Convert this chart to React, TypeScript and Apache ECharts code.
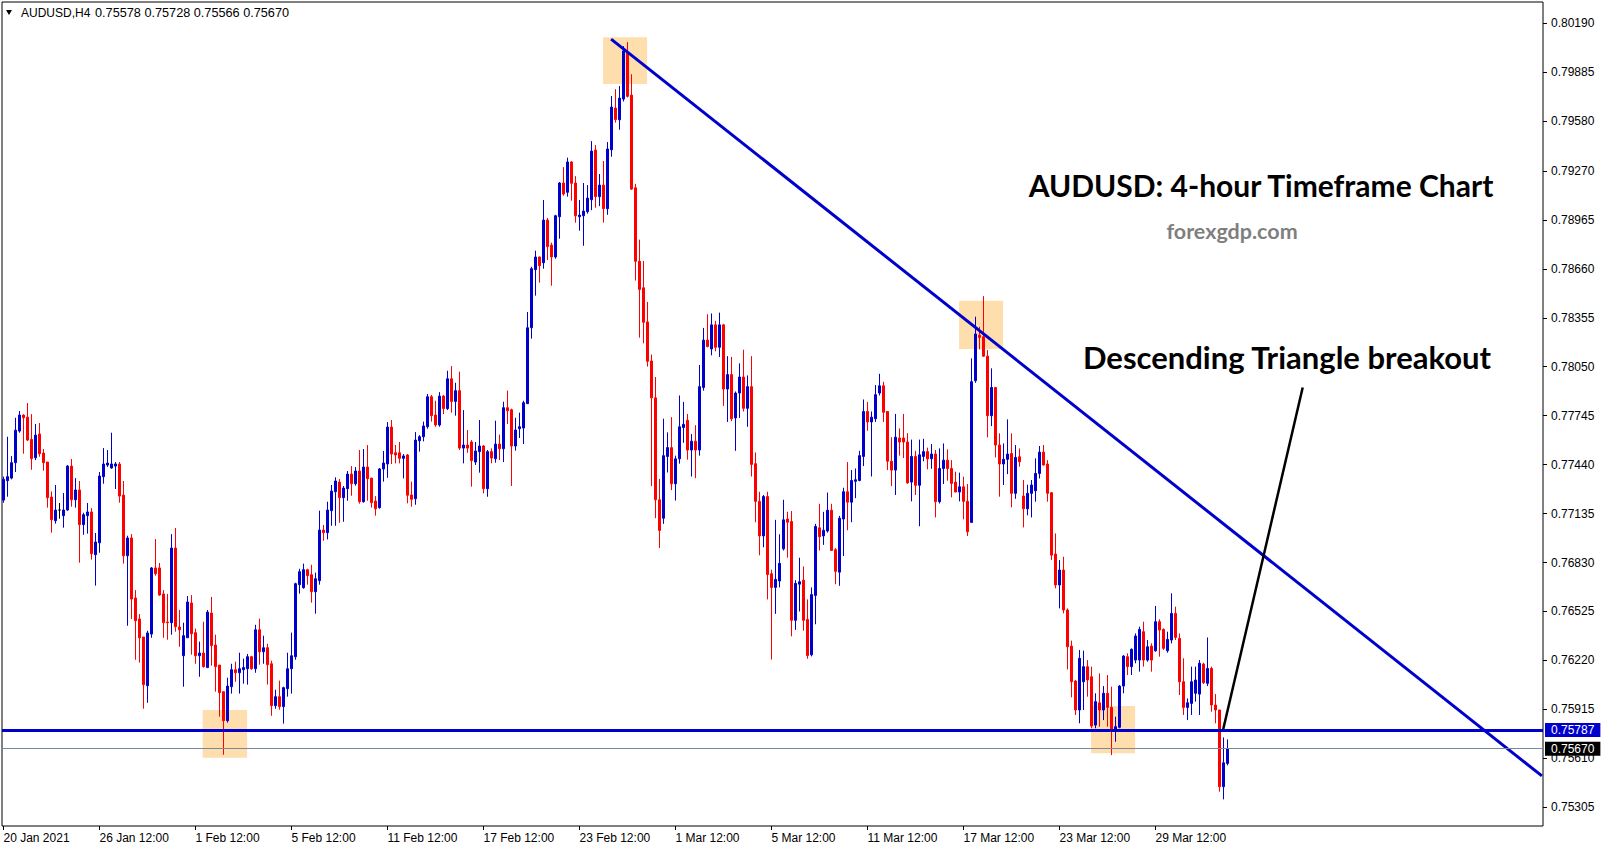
import React, { useEffect, useRef } from "react";
import * as echarts from "echarts";

// AUDUSD H4 candles, prices in 1e-5 units (points)
const OPEN = [
  77219, 77340, 77356, 77452, 77649, 77749, 77736, 77597, 77483, 77631,
  77512, 77456, 77238, 77091, 77157, 77122, 77157, 77431, 77221, 77282,
  77066, 77122, 77145, 76879, 76953, 77365, 77437, 77419, 77431, 77444,
  77250, 76872, 76983, 76609, 76478, 76366, 76062, 76384, 76796, 76796,
  76634, 76459, 76455, 76920, 76428, 76249, 76361, 76578, 76393, 76249,
  76266, 76175, 76515, 76316, 76191, 76025, 75844, 76056, 76162, 76143,
  76162, 76168, 76243, 76168, 76411, 76274, 76299, 76199, 75938, 75994,
  75932, 76044, 76168, 76243, 76692, 76673, 76785, 76754, 76648, 76717,
  77032, 77016, 77153, 77271, 77331, 77234, 77290, 77381, 77321, 77400,
  77209, 77425, 77356, 77213, 77172, 77413, 77444, 77674, 77514, 77514,
  77479, 77500, 77251, 77228, 77589, 77614, 77676, 77863, 77749, 77687,
  77867, 77789, 77975, 77834, 77901, 77543, 77562, 77581, 77456, 77521,
  77556, 77290, 77521, 77477, 77568, 77539, 77795, 77782, 77556, 77664,
  77668, 77820, 78293, 78655, 78734, 78698, 78964, 78808, 78734, 78985,
  79195, 79137, 79326, 79195, 78985, 78991, 79016, 79091, 79400, 79110,
  79182, 79035, 79402, 79662, 79589, 79718, 80010, 79743, 79165, 78707,
  78542, 78329, 78086, 77856, 77221, 77106, 77491, 77546, 77321, 77476,
  77671, 77716, 77531, 77586, 77531, 77921, 78216, 78161, 78311, 78171,
  78311, 77911, 78001, 77731, 77886, 77986, 77791, 77926, 77446, 77211,
  76996, 77241, 76760, 76675, 76715, 76915, 77101, 77086, 76470, 76695,
  76720, 76475, 76255, 76625, 77046, 76996, 77026, 77156, 76910, 76770,
  77101, 77271, 77206, 77336, 77341, 77491, 77771, 77706, 77726, 77886,
  77931, 77771, 77461, 77406, 77606, 77606, 77581, 77331, 77491, 77311,
  77491, 77521, 77477, 77506, 77209, 77416, 77468, 77416, 77331, 77269,
  77302, 77211, 77080, 77963, 78247, 78237, 78116, 77745, 77921, 77562,
  77444, 77473, 77510, 77261, 77489, 77244, 77165, 77261, 77277, 77385,
  77518, 77444, 77265, 76883, 76690, 76783, 76534, 76309, 76091, 75911,
  76087, 76181, 76118, 75817, 75956, 75911, 76015, 75927, 75782, 75803,
  76060, 76243, 76181, 76222, 76222, 76399, 76222, 76309, 76280, 76461,
  76413, 76280, 76347, 76513, 76357, 76087, 75927, 75952, 76015, 76010,
  76197, 76077, 76170, 75942, 75911, 75433, 75578,
];
const HIGH = [
  77365, 77614, 77493, 77732, 77774, 77753, 77824, 77755, 77693, 77699,
  77537, 77456, 77273, 77313, 77201, 77263, 77437, 77475, 77356, 77338,
  77140, 77201, 77169, 77014, 77394, 77543, 77531, 77639, 77456, 77456,
  77338, 76997, 77007, 76658, 76509, 76366, 76405, 76802, 76976, 76827,
  76658, 76634, 77007, 77045, 76534, 76455, 76621, 76627, 76418, 76337,
  76461, 76534, 76615, 76380, 76191, 76025, 76112, 76199, 76212, 76268,
  76231, 76260, 76249, 76442, 76480, 76374, 76324, 76218, 76037, 76094,
  76056, 76268, 76393, 76704, 76791, 76823, 76791, 76816, 76767, 77153,
  77064, 77209, 77313, 77361, 77350, 77307, 77400, 77431, 77425, 77531,
  77537, 77562, 77356, 77244, 77419, 77525, 77705, 77718, 77562, 77581,
  77506, 77506, 77334, 77643, 77624, 77708, 77880, 77874, 77838, 77892,
  77874, 78025, 78054, 77950, 78019, 77780, 77656, 77593, 77581, 77718,
  77562, 77531, 77541, 77714, 77627, 77832, 77901, 77789, 77732, 77764,
  77838, 78391, 78673, 78773, 78736, 79089, 78977, 78823, 78997, 79201,
  79294, 79353, 79332, 79238, 79089, 79195, 79182, 79456, 79431, 79251,
  79332, 79450, 79737, 79780, 79799, 80048, 80073, 79873, 79190, 78842,
  78709, 78454, 78126, 77986, 77351, 77726, 77641, 77736, 77496, 77871,
  77831, 77756, 77631, 77686, 78061, 78292, 78377, 78382, 78336, 78387,
  78317, 78116, 78111, 77896, 78071, 78156, 77996, 78116, 77516, 77271,
  77251, 77271, 76785, 77096, 77006, 77221, 77146, 77151, 76720, 76860,
  76805, 76600, 76675, 77071, 77196, 77146, 77266, 77196, 76920, 77121,
  77296, 77456, 77406, 77416, 77526, 77846, 77831, 77771, 77936, 78006,
  77956, 77771, 77611, 77756, 77666, 77756, 77636, 77596, 77526, 77596,
  77601, 77546, 77568, 77531, 77541, 77572, 77535, 77468, 77396, 77390,
  77365, 77319, 78102, 78362, 78299, 78490, 78154, 78040, 77921, 77635,
  77572, 77722, 77635, 77562, 77541, 77344, 77315, 77344, 77479, 77556,
  77562, 77468, 77269, 77011, 76845, 76866, 76544, 76343, 76098, 76285,
  76281, 76222, 76181, 76015, 76139, 76060, 76129, 76056, 75869, 76066,
  76253, 76264, 76295, 76388, 76430, 76461, 76347, 76326, 76559, 76476,
  76420, 76399, 76638, 76555, 76388, 76233, 75983, 76181, 76181, 76222,
  76206, 76363, 76181, 76010, 75911, 75740, 75728,
];
const LOW = [
  77203, 77240, 77348, 77394, 77639, 77508, 77587, 77408, 77468, 77489,
  77402, 77172, 77016, 77072, 77103, 77047, 77153, 77178, 77172, 76829,
  77003, 77010, 76848, 76686, 76891, 77321, 77425, 77415, 77288, 77203,
  76823, 76436, 76478, 76224, 76206, 75919, 75956, 76361, 76748, 76623,
  76361, 76349, 76380, 76399, 76305, 76056, 76361, 76256, 76199, 76118,
  76175, 76175, 76187, 76025, 75869, 75632, 75832, 76013, 76087, 76013,
  76075, 76069, 76162, 76143, 76193, 76199, 76069, 75875, 75919, 75913,
  75826, 75994, 76013, 76224, 76636, 76667, 76692, 76580, 76511, 76692,
  76966, 76974, 77059, 77059, 77078, 77084, 77215, 77246, 77309, 77197,
  77203, 77215, 77172, 77122, 77165, 77334, 77358, 77444, 77448, 77448,
  77354, 77199, 77178, 77190, 77521, 77585, 77664, 77708, 77676, 77676,
  77755, 77780, 77764, 77745, 77531, 77448, 77514, 77303, 77438, 77390,
  77261, 77240, 77448, 77452, 77469, 77456, 77693, 77307, 77527, 77606,
  77568, 77820, 78225, 78493, 78574, 78661, 78715, 78555, 78723, 78848,
  79116, 79110, 79085, 78948, 78898, 78804, 79004, 79026, 79041, 79051,
  78948, 78997, 79359, 79571, 79527, 79703, 79728, 79152, 78587, 78231,
  78196, 78051, 77306, 77106, 76920, 77071, 77391, 77281, 77216, 77446,
  77576, 77471, 77366, 77356, 77496, 77901, 78171, 78121, 78146, 78111,
  77806, 77706, 77711, 77526, 77731, 77771, 77676, 77366, 77081, 76875,
  76925, 76600, 76225, 76510, 76675, 76905, 76860, 76370, 76410, 76525,
  76405, 76230, 76245, 76445, 76905, 76940, 77016, 76905, 76695, 76685,
  76870, 77031, 77081, 77231, 77336, 77431, 77651, 77366, 77706, 77871,
  77706, 77406, 77306, 77251, 77496, 77481, 77321, 77211, 77251, 77056,
  77461, 77411, 77414, 77111, 77198, 77319, 77340, 77236, 77269, 77211,
  77099, 76995, 77080, 77950, 78158, 78112, 77610, 77680, 77485, 77240,
  77313, 77381, 77174, 77227, 77427, 77049, 77124, 77111, 77209, 77354,
  77435, 77209, 76845, 76669, 76544, 76513, 76164, 75990, 75880, 75828,
  75911, 75994, 75797, 75797, 75807, 75848, 75807, 75630, 75713, 75797,
  76015, 76129, 76129, 76202, 76150, 76181, 76212, 76150, 76274, 76243,
  76285, 76268, 76326, 76347, 76004, 75880, 75848, 75880, 75963, 75880,
  76073, 76060, 75900, 75828, 75402, 75354, 75566,
];
const CLOSE = [
  77348, 77365, 77452, 77655, 77749, 77732, 77593, 77477, 77624, 77508,
  77452, 77234, 77097, 77157, 77157, 77157, 77431, 77221, 77282, 77066,
  77128, 77145, 76885, 76958, 77369, 77444, 77450, 77444, 77444, 77244,
  76872, 76983, 76602, 76467, 76361, 76069, 76391, 76796, 76760, 76627,
  76455, 76455, 76920, 76430, 76411, 76374, 76584, 76386, 76249, 76266,
  76181, 76521, 76312, 76181, 76019, 75844, 76060, 76162, 76143, 76168,
  76175, 76243, 76168, 76411, 76274, 76299, 76193, 75938, 75994, 75932,
  76050, 76168, 76249, 76698, 76773, 76785, 76748, 76648, 76729, 77032,
  77016, 77157, 77275, 77338, 77234, 77294, 77381, 77321, 77400, 77209,
  77425, 77352, 77203, 77165, 77413, 77450, 77674, 77506, 77500, 77479,
  77494, 77249, 77224, 77593, 77614, 77681, 77863, 77745, 77687, 77867,
  77789, 77975, 77834, 77901, 77543, 77562, 77543, 77465, 77525, 77556,
  77290, 77521, 77481, 77568, 77539, 77795, 77776, 77556, 77656, 77676,
  77826, 78293, 78661, 78734, 78680, 78964, 78798, 78734, 78991, 79195,
  79126, 79326, 79193, 78991, 78995, 79020, 79101, 79394, 79110, 79182,
  79035, 79407, 79668, 79591, 79724, 80018, 79735, 79157, 78707, 78532,
  78327, 78084, 77856, 77221, 77030, 77496, 77546, 77321, 77476, 77676,
  77691, 77531, 77586, 77531, 77926, 78216, 78176, 78311, 78171, 78311,
  77911, 78001, 77726, 77886, 77986, 77791, 77926, 77441, 77211, 76996,
  77241, 76755, 76675, 76725, 76825, 77096, 77081, 76470, 76700, 76710,
  76470, 76250, 76630, 77055, 76991, 77031, 77156, 76905, 76775, 77106,
  77271, 77206, 77341, 77346, 77496, 77771, 77706, 77736, 77876, 77931,
  77766, 77461, 77406, 77611, 77581, 77581, 77326, 77491, 77311, 77501,
  77521, 77476, 77506, 77209, 77416, 77468, 77416, 77323, 77269, 77302,
  77211, 77022, 77957, 78254, 78233, 78116, 77745, 77921, 77562, 77444,
  77473, 77506, 77261, 77485, 77458, 77165, 77261, 77313, 77385, 77518,
  77437, 77261, 76876, 76690, 76783, 76534, 76305, 76087, 75911, 76233,
  76181, 76098, 75811, 75963, 75911, 76015, 75927, 75786, 75807, 76060,
  76247, 76181, 76289, 76372, 76413, 76222, 76305, 76222, 76461, 76409,
  76295, 76351, 76513, 76363, 76087, 75927, 75956, 76087, 76098, 76202,
  76081, 76170, 75942, 75911, 75433, 75582, 75670,
];
const POINT = 1e-5;

// time-axis labels, one every 24 bars starting at the first bar
const X_LABELS = [
  "20 Jan 2021", "26 Jan 12:00", "1 Feb 12:00", "5 Feb 12:00", "11 Feb 12:00",
  "17 Feb 12:00", "23 Feb 12:00", "1 Mar 12:00", "5 Mar 12:00", "11 Mar 12:00",
  "17 Mar 12:00", "23 Mar 12:00", "29 Mar 12:00",
];
const X_LABEL_STEP = 24;
const Y_TICKS = [
  0.8019, 0.79885, 0.7958, 0.7927, 0.78965, 0.7866, 0.78355, 0.7805, 0.77745,
  0.7744, 0.77135, 0.7683, 0.76525, 0.7622, 0.75915, 0.7561, 0.75305,
];

// annotations (bar index, price)
const SUPPORT_LEVEL = 0.75787;
const LAST_PRICE = 0.7567;
const TREND_LINE = [[151.9, 0.80092], [384.6, 0.755]];
const ARROW_LINE = [[304.9, 0.75788], [324.8, 0.77921]];
const HIGHLIGHT_BOXES = [
  [[149.9, 0.80104], [160.9, 0.79812]],
  [[238.9, 0.78461], [249.9, 0.7816]],
  [[49.8, 0.75911], [60.9, 0.75614]],
  [[271.9, 0.75936], [282.9, 0.75641]],
];

const BLUE = "#0000CD";
const RED = "#FF0000";
const AXIS_FONT = "'Liberation Sans', Arial, sans-serif";
const TITLE_FONT = "Lato, 'Open Sans', sans-serif";

export default function App() {
  const ref = useRef<HTMLDivElement>(null);

  useEffect(() => {
    const el = ref.current;
    if (!el) return;
    const chart = echarts.init(el, null, { renderer: "svg" });

    const candles = OPEN.map((o, i) => [
      i,
      o * POINT,
      CLOSE[i] * POINT,
      LOW[i] * POINT,
      HIGH[i] * POINT,
    ]);
    const last = OPEN.length - 1;
    const fmt = (v: number) => (v * POINT).toFixed(5);
    const headerValues = `${fmt(OPEN[last])} ${fmt(HIGH[last])} ${fmt(LOW[last])} ${fmt(CLOSE[last])}`;
    const xTickValues = X_LABELS.map((_, k) => k * X_LABEL_STEP);

    const priceLabel = (text: string, bg: string) => ({
      show: true,
      position: "end",
      distance: 2,
      formatter: text,
      color: "#fff",
      backgroundColor: bg,
      padding: [1, 6, 1, 6],
      fontSize: 12,
      lineHeight: 12,
      fontFamily: AXIS_FONT,
    });

    chart.setOption({
      animation: false,
      backgroundColor: "#ffffff",
      grid: {
        left: 2,
        top: 2,
        width: 1541,
        height: 824,
        show: true,
        borderColor: "#000",
        borderWidth: 1,
        backgroundColor: "transparent",
      },
      xAxis: {
        type: "value",
        min: -0.375,
        max: 384.875,
        axisLine: { show: false, onZero: false },
        splitLine: { show: false },
        axisTick: {
          show: true,
          customValues: xTickValues,
          length: 4,
          lineStyle: { color: "#000", width: 1 },
        },
        axisLabel: {
          customValues: xTickValues,
          formatter: (v: number) => X_LABELS[Math.round(v / X_LABEL_STEP)] ?? "",
          align: "left",
          margin: 6,
          color: "#000",
          fontSize: 12,
          fontFamily: AXIS_FONT,
        },
      },
      yAxis: {
        type: "value",
        position: "right",
        min: 0.75188,
        max: 0.80323,
        axisLine: { show: false, onZero: false },
        splitLine: { show: false },
        axisTick: {
          show: true,
          customValues: Y_TICKS,
          length: 4,
          lineStyle: { color: "#000", width: 1 },
        },
        axisLabel: {
          customValues: Y_TICKS,
          formatter: (v: number) => v.toFixed(5),
          margin: 8,
          color: "#000",
          fontSize: 12,
          fontFamily: AXIS_FONT,
        },
      },
      series: [
        {
          type: "candlestick",
          data: candles,
          barWidth: 2,
          z: 2,
          itemStyle: {
            color: BLUE,
            color0: RED,
            borderColor: BLUE,
            borderColor0: RED,
            borderColorDoji: "#000",
            borderWidth: 1,
          },
          silent: true,
          markArea: {
            silent: true,
            itemStyle: { color: "#FFDEAD", opacity: 1 },
            data: HIGHLIGHT_BOXES.map((b) => [{ coord: b[0] }, { coord: b[1] }]),
          },
        },
        {
          type: "line",
          data: TREND_LINE,
          symbol: "none",
          silent: true,
          z: 3,
          lineStyle: { color: BLUE, width: 3 },
          markLine: {
            silent: true,
            precision: 5,
            symbol: ["none", "none"],
            data: [
              {
                yAxis: SUPPORT_LEVEL,
                lineStyle: { color: BLUE, width: 3, type: "solid" },
                label: priceLabel(SUPPORT_LEVEL.toFixed(5), BLUE),
              },
              {
                yAxis: LAST_PRICE,
                lineStyle: { color: "#778899", width: 1, type: "solid" },
                label: priceLabel(LAST_PRICE.toFixed(5), "#000"),
              },
            ],
          },
        },
        {
          type: "line",
          data: ARROW_LINE,
          symbol: "none",
          silent: true,
          z: 4,
          lineStyle: { color: "#000", width: 2.5 },
        },
      ],
      graphic: [
        {
          type: "polygon",
          shape: { points: [[6, 10], [12, 10], [9, 15]] },
          style: { fill: "#000" },
        },
        {
          type: "text",
          x: 21,
          y: 13,
          style: {
            text: "AUDUSD,H4",
            fill: "#000",
            font: `12px ${AXIS_FONT}`,
            verticalAlign: "middle",
            textVerticalAlign: "middle",
          },
        },
        {
          type: "text",
          x: 95,
          y: 13,
          style: {
            text: headerValues,
            fill: "#000",
            font: `12.7px ${AXIS_FONT}`,
            verticalAlign: "middle",
            textVerticalAlign: "middle",
          },
        },
        {
          type: "text",
          x: 1261,
          y: 185,
          style: {
            text: "AUDUSD: 4-hour Timeframe Chart",
            fill: "#000",
            font: `bold 30px ${TITLE_FONT}`,
            align: "center",
            textAlign: "center",
            verticalAlign: "middle",
            textVerticalAlign: "middle",
          },
        },
        {
          type: "text",
          x: 1232,
          y: 231,
          style: {
            text: "forexgdp.com",
            fill: "#7F7F7F",
            font: `bold 21.5px ${TITLE_FONT}`,
            align: "center",
            textAlign: "center",
            verticalAlign: "middle",
            textVerticalAlign: "middle",
          },
        },
        {
          type: "text",
          x: 1287,
          y: 357,
          style: {
            text: "Descending Triangle breakout",
            fill: "#000",
            font: `bold 31px ${TITLE_FONT}`,
            align: "center",
            textAlign: "center",
            verticalAlign: "middle",
            textVerticalAlign: "middle",
          },
        },
      ],
    });

    return () => chart.dispose();
  }, []);

  return (
    <div
      ref={ref}
      style={{
        position: "fixed",
        left: 0,
        top: 0,
        width: 1607,
        height: 850,
        background: "#fff",
      }}
    />
  );
}
